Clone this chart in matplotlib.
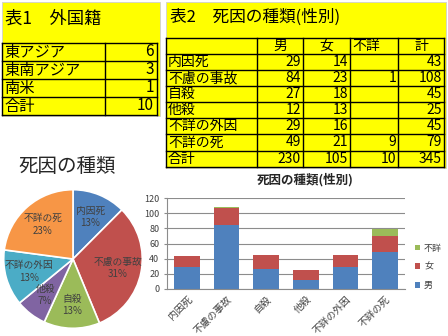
import matplotlib
matplotlib.use("Agg")
import matplotlib.pyplot as plt
from matplotlib.patches import Rectangle

plt.rcParams['font.family'] = ['Noto Sans CJK JP', 'DejaVu Sans']

# ---- data ----
t1_title = "表1　外国籍"
t1_labels = ["東アジア", "東南アジア", "南米", "合計"]
t1_values = [6, 3, 1, 10]

t2_title = "表2　死因の種類(性別)"
t2_cols = ["男", "女", "不詳", "計"]
causes = ["内因死", "不慮の事故", "自殺", "他殺", "不詳の外因", "不詳の死"]
male = [29, 84, 27, 12, 29, 49]
female = [14, 23, 18, 13, 16, 21]
unknown = [0, 1, 0, 0, 0, 9]
totals = [43, 108, 45, 25, 45, 79]
sum_label = "合計"
sum_row = [230, 105, 10, 345]
pie_pct = [13, 31, 13, 7, 13, 23]

pie_title = "死因の種類"
bar_title = "死因の種類(性別)"
pie_colors = ["#4F81BD", "#C0504D", "#9BBB59", "#8064A2", "#4BACC6", "#F79646"]
bar_colors = ["#4F81BD", "#C0504D", "#9BBB59"]

W, H = 448, 336
fig = plt.figure(figsize=(W / 100, H / 100), dpi=100)
fig.patch.set_facecolor("white")

tab = fig.add_axes([0, 0, 1, 1])
tab.set_xlim(0, W)
tab.set_ylim(H, 0)
tab.axis("off")

yellow = "#FFFF00"

# ---- Table 1 ----
tab.add_patch(Rectangle((2, 2), 158, 114, facecolor=yellow, edgecolor="#d0d0d0", lw=0.6))
tab.text(5, 19, t1_title, fontsize=12.5, va="center", ha="left")
t1_top, t1_rh = 43, 18
t1_x0, t1_x1, t1_xd = 2, 157, 105
for i in range(len(t1_labels) + 1):
    y = t1_top + i * t1_rh
    tab.plot([t1_x0, t1_x1], [y, y], color="black", lw=1.0)
for x in (t1_x0, t1_xd, t1_x1):
    tab.plot([x, x], [t1_top, t1_top + 4 * t1_rh], color="black", lw=1.0)
for i, (lab, v) in enumerate(zip(t1_labels, t1_values)):
    yc = t1_top + i * t1_rh + t1_rh / 2
    tab.text(t1_x0 + 2, yc, lab, fontsize=11, va="center", ha="left")
    tab.text(t1_x1 - 3, yc, str(v), fontsize=11, va="center", ha="right")

# ---- Table 2 ----
tab.add_patch(Rectangle((166, 2), 280, 166, facecolor=yellow, edgecolor="#d0d0d0", lw=0.6))
tab.text(170, 17, t2_title, fontsize=12, va="center", ha="left")
row_edges = [38, 54, 70, 86, 102, 118, 134, 151, 167]
col_edges = [166, 257, 303, 350, 398, 444]
for y in row_edges:
    tab.plot([col_edges[0], col_edges[-1]], [y, y], color="black", lw=1.0)
for x in col_edges:
    tab.plot([x, x], [row_edges[0], row_edges[-1]], color="black", lw=1.0)
fs2 = 10
for j, c in enumerate(t2_cols):
    yc = (row_edges[0] + row_edges[1]) / 2
    if c == "不詳":
        tab.text(col_edges[j + 1] + 2, yc, c, fontsize=fs2, va="center", ha="left")
    else:
        tab.text((col_edges[j + 1] + col_edges[j + 2]) / 2, yc, c, fontsize=fs2, va="center", ha="center")
rows = [(causes[i], [male[i], female[i], unknown[i], totals[i]]) for i in range(len(causes))]
rows.append((sum_label, sum_row))
for i, (lab, vals) in enumerate(rows):
    yc = (row_edges[i + 1] + row_edges[i + 2]) / 2
    tab.text(col_edges[0] + 2, yc, lab, fontsize=fs2, va="center", ha="left")
    for j, v in enumerate(vals):
        if v == 0:
            continue
        tab.text(col_edges[j + 2] - 2, yc, str(v), fontsize=fs2, va="center", ha="right")

# ---- Pie ----
tab.text(18, 166, pie_title, fontsize=14, va="center", ha="left", color="#262626")
cx, cy, r = 73, 259, 70
pax = fig.add_axes([(cx - r) / W, (H - cy - r) / H, 2 * r / W, 2 * r / H])
labels = [f"{c}\n{p}%" for c, p in zip(causes, pie_pct)]
pax.pie(totals, colors=pie_colors, startangle=90, counterclock=False,
        labels=labels, labeldistance=0.66,
        wedgeprops=dict(edgecolor="white", linewidth=1.2),
        textprops=dict(fontsize=7, color="#404040", ha="center", va="center", linespacing=1.3))
pax.set_xlim(-1.01, 1.01)
pax.set_ylim(-1.01, 1.01)
pax.set_aspect("equal")

# ---- Stacked bar ----
tab.text(305, 180, bar_title, fontsize=9, va="center", ha="center", fontweight="bold", color="#262626")
bx0, bx1, by0, by1 = 167, 405, 198, 289
bax = fig.add_axes([bx0 / W, (H - by1) / H, (bx1 - bx0) / W, (by1 - by0) / H])
xs = list(range(len(causes)))
bw = 0.65
bax.bar(xs, male, width=bw, color=bar_colors[0], label="男")
bax.bar(xs, female, width=bw, bottom=male, color=bar_colors[1], label="女")
bot3 = [m + f for m, f in zip(male, female)]
bax.bar(xs, unknown, width=bw, bottom=bot3, color=bar_colors[2], label="不詳")
bax.set_ylim(0, 120)
bax.set_xlim(-0.5, len(causes) - 0.5)
bax.set_yticks(range(0, 121, 20))
bax.yaxis.grid(True, color="#8c8c8c", lw=0.8)
bax.set_axisbelow(True)
for s in ["top", "right"]:
    bax.spines[s].set_visible(False)
bax.spines["left"].set_color("#8c8c8c")
bax.spines["bottom"].set_color("#8c8c8c")
bax.tick_params(axis="y", labelsize=6.5, colors="#404040", length=2, color="#8c8c8c")
bax.tick_params(axis="x", length=0, labelsize=7, colors="#404040")
bax.set_xticks(xs)
bax.set_xticklabels(causes, rotation=45, ha="right", rotation_mode="anchor")
h, l = bax.get_legend_handles_labels()
fig.legend(h[::-1], l[::-1], loc="center left", bbox_to_anchor=(415 / W, (H - 267) / H),
           frameon=False, fontsize=6.5, handlelength=0.6, handleheight=0.6,
           labelspacing=1.1, handletextpad=0.4, borderpad=0, borderaxespad=0,
           labelcolor="#404040")

fig.savefig("out.png", dpi=100)
